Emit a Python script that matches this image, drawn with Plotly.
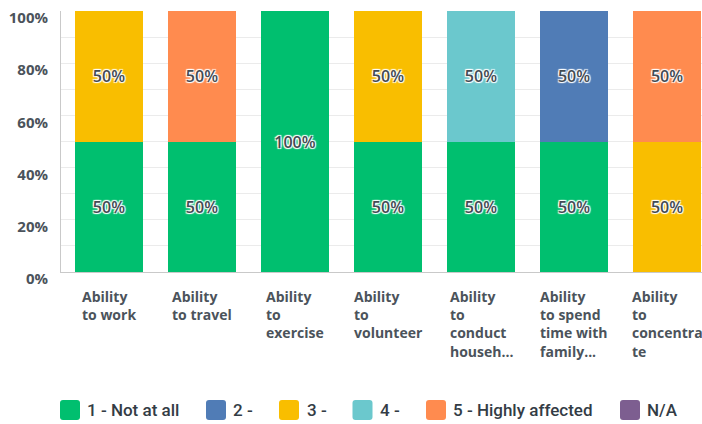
import plotly.graph_objects as go

# Survey question rows (x categories) and their wrapped axis labels
categories = [
    "Ability to work",
    "Ability to travel",
    "Ability to exercise",
    "Ability to volunteer",
    "Ability to conduct household",
    "Ability to spend time with family",
    "Ability to concentrate",
]
tick_labels = [
    "Ability<br>to work",
    "Ability<br>to travel",
    "Ability<br>to<br>exercise",
    "Ability<br>to<br>volunteer",
    "Ability<br>to<br>conduct<br>househ...",
    "Ability<br>to spend<br>time with<br>family...",
    "Ability<br>to<br>concentra<br>te",
]

# Share of responses (%) for each answer option
series_names = ["1 - Not at all", "2 -", "3 -", "4 -", "5 - Highly affected", "N/A"]
not_at_all = [50, 50, 100, 50, 50, 50, 0]
rating_2 = [0, 0, 0, 0, 0, 50, 0]
rating_3 = [50, 0, 0, 50, 0, 0, 50]
rating_4 = [0, 0, 0, 0, 50, 0, 0]
highly_affected = [0, 50, 0, 0, 0, 0, 50]
not_applicable = [0, 0, 0, 0, 0, 0, 0]

series_values = [not_at_all, rating_2, rating_3, rating_4, highly_affected, not_applicable]
colors = ["#00bf6f", "#507cb6", "#f9be00", "#6bc8cd", "#ff8b4f", "#7d5e90"]

W, H = 702, 424
ML, MR, MT, MB = 61, 0, 11, 152
PW, PH = W - ML - MR, H - MT - MB

fig = go.Figure()
for name, vals, col in zip(series_names, series_values, colors):
    fig.add_trace(go.Bar(
        x=categories,
        y=[v if v else None for v in vals],
        name=name,
        marker=dict(color=col, line=dict(width=0)),
        width=0.731,
        text=[f"{v}%" if v else "" for v in vals],
        textposition="inside",
        insidetextanchor="middle",
        textangle=0,
        constraintext="none",
        textfont=dict(
            family="Open Sans", size=16, weight=600, color="#434b53",
            shadow="1px 1px 1px #fff, -1px -1px 1px #fff, 1px -1px 1px #fff, -1px 1px 1px #fff",
        ),
        showlegend=False,
        hoverinfo="skip",
    ))

# Wrapped, left-aligned category labels under each bar
for cat, lab in zip(categories, tick_labels):
    fig.add_annotation(
        x=cat, xref="x", y=0, yref="paper",
        yanchor="top", xanchor="center", align="left",
        yshift=-13, text=lab, showarrow=False,
        font=dict(family="Open Sans", size=14, weight=700, color="#4b535b"),
    )

# Legend row: rounded swatches with labels
legend_sq_left = [60, 206, 279, 352.5, 426, 620]
legend_text_left = [85, 231, 304.5, 377.5, 451, 645]
sq = 20
rad = 3
cy = 410

def px_x(p):
    return (p - ML) / PW

def px_y(p):
    return (MT + PH - p) / PH

for name, col, sx, tx in zip(series_names, colors, legend_sq_left, legend_text_left):
    x0, x1 = sx, sx + sq
    y0, y1 = cy - sq / 2, cy + sq / 2
    pts = [
        (x0 + rad, y0), (x1 - rad, y0), (x1, y0), (x1, y0 + rad),
        (x1, y1 - rad), (x1, y1), (x1 - rad, y1), (x0 + rad, y1),
        (x0, y1), (x0, y1 - rad), (x0, y0 + rad), (x0, y0),
    ]
    c = [(px_x(a), px_y(b)) for a, b in pts]
    path = (
        f"M {c[0][0]},{c[0][1]} L {c[1][0]},{c[1][1]} Q {c[2][0]},{c[2][1]} {c[3][0]},{c[3][1]} "
        f"L {c[4][0]},{c[4][1]} Q {c[5][0]},{c[5][1]} {c[6][0]},{c[6][1]} "
        f"L {c[7][0]},{c[7][1]} Q {c[8][0]},{c[8][1]} {c[9][0]},{c[9][1]} "
        f"L {c[10][0]},{c[10][1]} Q {c[11][0]},{c[11][1]} {c[0][0]},{c[0][1]} Z"
    )
    fig.add_shape(type="path", path=path, xref="paper", yref="paper",
                  fillcolor=col, line=dict(width=0), layer="above")
    fig.add_annotation(
        x=px_x(tx), xref="paper", y=px_y(cy), yref="paper",
        xanchor="left", yanchor="middle", text=name, showarrow=False,
        font=dict(family="Roboto", size=17, weight=500, color="#333c45"),
    )

fig.update_layout(
    width=W, height=H,
    margin=dict(l=ML, r=MR, t=MT, b=MB),
    barmode="stack",
    bargap=0.27,
    plot_bgcolor="#ffffff",
    paper_bgcolor="#ffffff",
    showlegend=False,
    xaxis=dict(
        type="category",
        range=[-0.516, 6.376],
        showticklabels=False,
        showgrid=False,
        zeroline=False,
        showline=True, linecolor="#c9c9c9", linewidth=1,
        ticks="",
    ),
    yaxis=dict(
        range=[0, 100],
        dtick=20,
        ticksuffix="%",
        showgrid=True, gridcolor="#ebebeb", gridwidth=1,
        minor=dict(dtick=10, showgrid=True, gridcolor="#ebebeb", gridwidth=1),
        zeroline=False,
        showline=True, linecolor="#c9c9c9", linewidth=1,
        ticks="",
        ticklabelstandoff=9,
        ticklabelshift=7,
        tickfont=dict(family="Open Sans", size=15, weight=700, color="#4b535b"),
    ),
)

fig.write_html("out.html")
